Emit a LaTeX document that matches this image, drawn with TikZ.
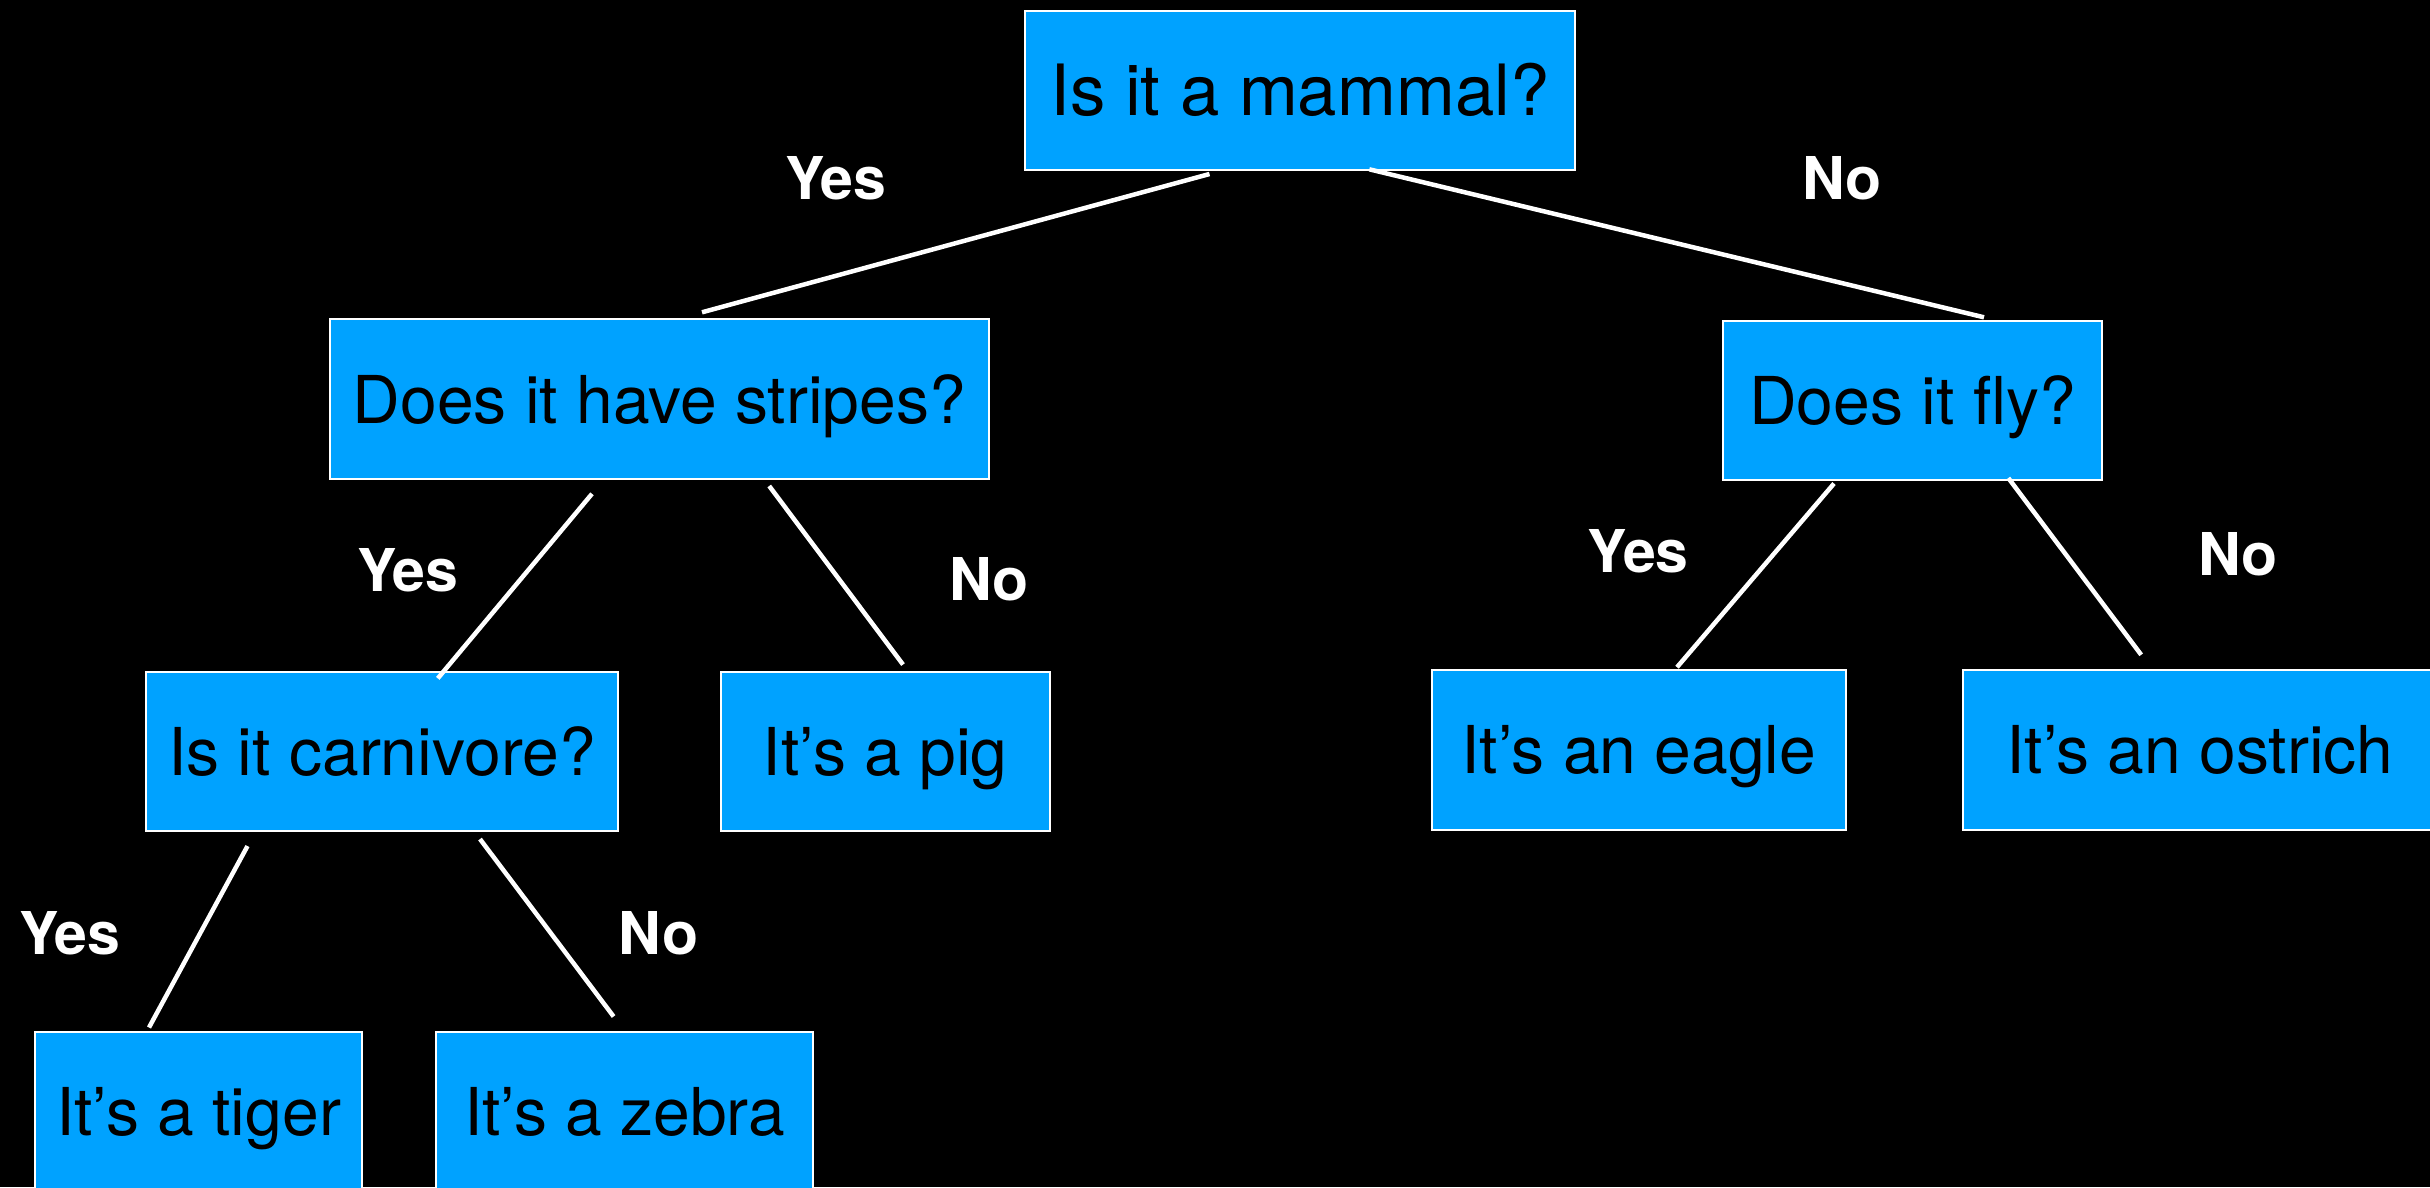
\documentclass[tikz,border=0pt]{standalone}
\usepackage{fontspec}
\setmainfont{TeX Gyre Heros}
\definecolor{boxblue}{RGB}{0,162,255}
\begin{document}
\begin{tikzpicture}[x=1pt,y=-1pt,
  qbox/.style={rectangle, draw=white, line width=2pt, fill=boxblue, text=black,
    inner sep=0pt, text height=47.4pt, text depth=0pt,
    font=\fontsize{66}{72}\selectfont},
  bigq/.style={qbox, text height=50.8pt, font=\fontsize{70.7}{78}\selectfont},
  edge/.style={draw=white, line width=4.5pt},
  lab/.style={anchor=base, text=white, font=\fontsize{59}{64}\selectfont\bfseries}]
\fill[black] (0,0) rectangle (2430,1187);
\useasboundingbox (0,0) rectangle (2430,1187);

\node[bigq, minimum width=549.9pt, minimum height=159.6pt] (mammal) at (1299.9,90.5) {Is it a mammal?};
\node[qbox, minimum width=658.9pt, minimum height=160pt] (stripes) at (659.3,399.3) {Does it have stripes?};
\node[qbox, minimum width=378.4pt, minimum height=159pt] (fly) at (1912.5,400.5) {Does it fly?};
\node[qbox, minimum width=471.3pt, minimum height=158.7pt] (carn) at (382,751.7) {Is it carnivore?};
\node[qbox, minimum width=329pt, minimum height=158.7pt] (pig) at (885.2,751.7) {It’s a pig};
\node[qbox, minimum width=414.3pt, minimum height=160pt] (eagle) at (1638.9,750) {It’s an eagle};
\node[qbox, minimum width=473.6pt, minimum height=160pt] (ostrich) at (2200,750) {It’s an ostrich};
\node[qbox, minimum width=326.8pt, minimum height=160pt] (tiger) at (198.6,1111.7) {It’s a tiger};
\node[qbox, minimum width=376.7pt, minimum height=160pt] (zebra) at (624.7,1111.7) {It’s a zebra};

\draw[edge] ([shift={(-90.4,2.7)}]mammal.south) -- ([shift={(42.7,-6)}]stripes.north);
\draw[edge] ([shift={(69.4,-2)}]mammal.south) -- ([shift={(71.5,-2.7)}]fly.north);
\draw[edge] ([shift={(-67.3,13.5)}]stripes.south) -- ([shift={(55.8,7)}]carn.north);
\draw[edge] ([shift={(109.9,5.7)}]stripes.south) -- ([shift={(17.8,-6.8)}]pig.north);
\draw[edge] ([shift={(-78.5,2.5)}]fly.south) -- ([shift={(38.1,-1.8)}]eagle.north);
\draw[edge] ([shift={(95.8,-3)}]fly.south) -- ([shift={(-58.8,-14.2)}]ostrich.north);
\draw[edge] ([shift={(-134.5,14)}]carn.south) -- ([shift={(-49.6,-3.2)}]tiger.north);
\draw[edge] ([shift={(98,7)}]carn.south) -- ([shift={(-11.1,-14.2)}]zebra.north);

\node[lab] (l1) at (835.8,199.3) {Yes};
\node[lab] (l2) at (1842,199.3) {No};
\node[lab] (l3) at (407.6,591) {Yes};
\node[lab] (l4) at (988.7,600.7) {No};
\node[lab] (l5) at (1638,572.7) {Yes};
\node[lab] (l6) at (2237.8,575.7) {No};
\node[lab] (l7) at (69.7,954) {Yes};
\node[lab] (l8) at (658.6,954) {No};
\end{tikzpicture}
\end{document}
